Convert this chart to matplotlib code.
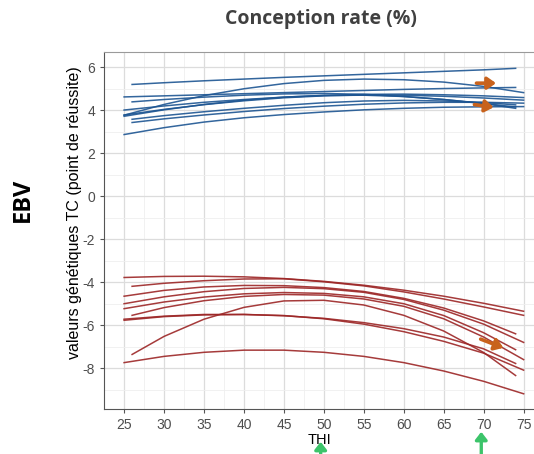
import matplotlib.pyplot as plt
from matplotlib.ticker import MultipleLocator

plt.rcParams['axes.unicode_minus'] = False

# THI values where each curve was read (start, 30..70, end)
mid_x = [30, 35, 40, 45, 50, 55, 60, 65, 70]

# blue curves: (start x, end x, values)
blue_curves = [
    (26, 74, [5.20, 5.28, 5.37, 5.45, 5.53, 5.60, 5.67, 5.74, 5.81, 5.88, 5.95]),
    (25, 74, [4.62, 4.67, 4.72, 4.77, 4.82, 4.87, 4.92, 4.97, 5.01, 5.04, 5.06]),
    (25, 75, [3.77, 4.27, 4.68, 5.00, 5.24, 5.39, 5.45, 5.42, 5.31, 5.11, 4.82]),
    (26, 74, [4.39, 4.50, 4.61, 4.70, 4.76, 4.78, 4.74, 4.64, 4.50, 4.32, 4.15]),
    (25, 75, [4.01, 4.20, 4.37, 4.50, 4.61, 4.69, 4.74, 4.75, 4.72, 4.67, 4.59]),
    (25, 75, [3.78, 4.04, 4.26, 4.44, 4.58, 4.67, 4.71, 4.70, 4.65, 4.57, 4.47]),
    (25, 74, [3.72, 4.02, 4.27, 4.47, 4.61, 4.69, 4.70, 4.64, 4.50, 4.31, 4.09]),
    (26, 74, [3.58, 3.75, 3.93, 4.09, 4.23, 4.35, 4.43, 4.46, 4.43, 4.36, 4.25]),
    (26, 75, [3.43, 3.60, 3.78, 3.94, 4.08, 4.19, 4.28, 4.34, 4.37, 4.37, 4.33]),
    (25, 75, [2.87, 3.19, 3.45, 3.65, 3.80, 3.92, 4.02, 4.09, 4.14, 4.16, 4.17]),
]

# red curves
red_curves = [
    (25, 75, [-3.78, -3.73, -3.72, -3.75, -3.83, -3.96, -4.14, -4.37, -4.65, -4.98, -5.35]),
    (26, 75, [-4.19, -4.05, -3.93, -3.85, -3.84, -3.98, -4.17, -4.45, -4.78, -5.15, -5.54]),
    (25, 74, [-4.65, -4.38, -4.22, -4.15, -4.16, -4.25, -4.43, -4.75, -5.20, -5.80, -6.40]),
    (25, 75, [-5.00, -4.68, -4.44, -4.29, -4.24, -4.30, -4.47, -4.80, -5.30, -5.95, -6.80]),
    (25, 74, [-5.23, -4.92, -4.69, -4.54, -4.48, -4.52, -4.68, -5.00, -5.55, -6.35, -7.14]),
    (26, 75, [-5.54, -5.18, -4.86, -4.66, -4.57, -4.60, -4.78, -5.12, -5.70, -6.55, -7.60]),
    (25, 75, [-5.77, -5.60, -5.52, -5.50, -5.55, -5.70, -5.95, -6.30, -6.75, -7.30, -8.09]),
    (25, 74, [-5.72, -5.58, -5.50, -5.50, -5.56, -5.68, -5.88, -6.16, -6.55, -7.10, -7.78]),
    (26, 74, [-7.36, -6.52, -5.72, -5.17, -4.87, -4.84, -5.06, -5.54, -6.27, -7.27, -8.34]),
    (25, 75, [-7.74, -7.45, -7.26, -7.16, -7.16, -7.26, -7.45, -7.74, -8.13, -8.61, -9.19]),
]

x_ticks = [25, 30, 35, 40, 45, 50, 55, 60, 65, 70, 75]
y_ticks = [-8, -6, -4, -2, 0, 2, 4, 6]

# orange arrows (tail, head) in data units
orange_arrows = [((68.75, 5.26), (71.9, 5.26)),
                 ((68.5, 4.28), (71.6, 4.12)),
                 ((69.3, -6.6), (72.8, -7.1))]
# green arrows under the axis: x in THI, tip height in figure fraction
green_arrows = [(49.6, 0.033), (69.7, 0.055)]

blue = '#1d5592'
red = '#9c2626'

fig = plt.figure(figsize=(5.34, 4.54), dpi=100)
ax = fig.add_axes([0.195, 0.099, 0.805, 0.786])

for x0, x1, vals in blue_curves:
    ax.plot([x0] + mid_x + [x1], vals, color=blue, lw=1.1, alpha=0.9)
for x0, x1, vals in red_curves:
    ax.plot([x0] + mid_x + [x1], vals, color=red, lw=1.1, alpha=0.9)

for tail, head in orange_arrows:
    ax.annotate('', xy=head, xytext=tail,
                arrowprops=dict(arrowstyle='-|>,head_width=0.35,head_length=0.5',
                                color='#c8621c', lw=2.6))

ax.set_xlim(22.5, 76.3)
ax.set_ylim(-9.9, 6.7)
ax.set_xticks(x_ticks)
ax.set_yticks(y_ticks)
ax.xaxis.set_minor_locator(MultipleLocator(2.5))
ax.yaxis.set_minor_locator(MultipleLocator(1))
ax.grid(which='major', color='#dcdcdc', lw=0.9)
ax.grid(which='minor', color='#efefef', lw=0.6)
ax.set_axisbelow(True)
ax.tick_params(which='major', length=3, color='#555555', labelsize=10,
               labelcolor='#4d4d4d', width=0.8)
ax.tick_params(which='minor', length=0)
for lab in ax.get_xticklabels() + ax.get_yticklabels():
    lab.set_family('Liberation Sans')
ax.spines['right'].set_visible(False)
ax.spines['top'].set_color('#9a9a9a')
ax.spines['left'].set_color('#555555')
ax.spines['bottom'].set_color('#555555')

ax.set_xlabel('THI', family='Liberation Sans', fontsize=10.5, labelpad=1)
ax.set_ylabel('valeurs génétiques TC (point de réussite)', family='Liberation Sans',
              fontsize=11.5, va='center')
ax.yaxis.set_label_coords(-0.068, 0.55)

fig.text(0.601, 0.958, 'Conception rate (%)', ha='center', va='center',
         family='Open Sans', fontweight='bold', fontsize=14, color='#404040')
fig.text(0.042, 0.559, 'EBV', ha='center', va='center', rotation=90,
         family='Open Sans', fontweight='bold', fontsize=17, color='black')

for gx, tip in green_arrows:
    ax.annotate('', xy=(gx, tip), xytext=(gx, -0.01),
                xycoords=('data', 'figure fraction'),
                textcoords=('data', 'figure fraction'),
                arrowprops=dict(arrowstyle='-|>,head_width=0.35,head_length=0.45',
                                color='#3cc46a', lw=2.4),
                annotation_clip=False)

fig.savefig('out.png', dpi=100)
